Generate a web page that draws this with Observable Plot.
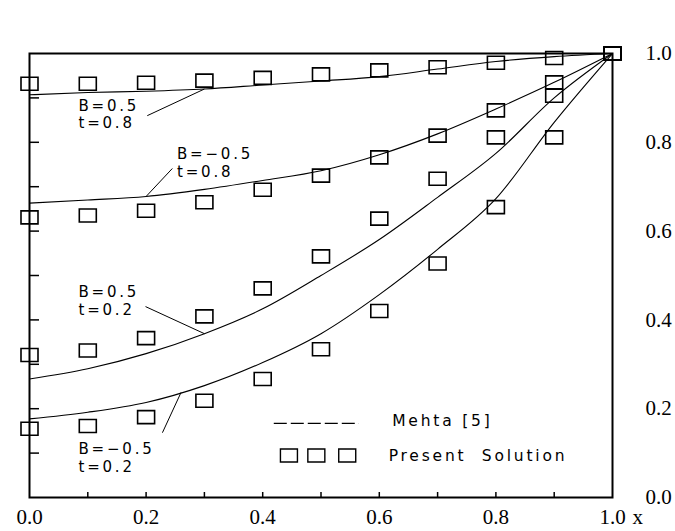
<!DOCTYPE html>
<html>
<head>
<meta charset="utf-8">
<script src="https://cdn.jsdelivr.net/npm/d3@7"></script>
<script src="https://cdn.jsdelivr.net/npm/@observablehq/plot@0.6"></script>
<style>
  html, body { margin: 0; padding: 0; background: #fff; }
  #chart g[aria-label="text"] text { letter-spacing: 2.8px; }
</style>
</head>
<body>
<div id="chart"></div>
<script>
// ---- data ----
const xValues = [0, 0.1, 0.2, 0.3, 0.4, 0.5, 0.6, 0.7, 0.8, 0.9, 1.0];

// Mehta [5] curves
const mehtaB05t08  = [0.907, 0.912, 0.915, 0.920, 0.929, 0.938, 0.948, 0.965, 0.982, 0.993, 1.0];
const mehtaBm05t08 = [0.663, 0.670, 0.678, 0.694, 0.714, 0.736, 0.772, 0.819, 0.875, 0.935, 1.0];
const mehtaB05t02  = [0.267, 0.290, 0.324, 0.369, 0.425, 0.500, 0.581, 0.676, 0.775, 0.900, 1.0];
const mehtaBm05t02 = [0.177, 0.192, 0.214, 0.252, 0.304, 0.369, 0.457, 0.559, 0.673, 0.845, 1.0];

// Present solution (squares)
const presentB05t08  = [0.932, 0.932, 0.934, 0.939, 0.945, 0.953, 0.962, 0.969, 0.979, 0.990, 1.0];
const presentBm05t08 = [0.631, 0.635, 0.646, 0.665, 0.693, 0.725, 0.766, 0.815, 0.872, 0.935, 1.0];
const presentB05t02  = [0.321, 0.331, 0.359, 0.408, 0.471, 0.543, 0.628, 0.718, 0.811, 0.905, 1.0];
const presentBm05t02 = [0.155, 0.161, 0.181, 0.218, 0.267, 0.334, 0.420, 0.527, 0.654, 0.811, 1.0];

const seriesLabels = ["B=0.5\nt=0.8", "B=\u22120.5\nt=0.8", "B=0.5\nt=0.2", "B=\u22120.5\nt=0.2"];
const xTickLabels = [0, 0.2, 0.4, 0.6, 0.8, 1.0];
const yTickLabels = [0, 0.2, 0.4, 0.6, 0.8, 1.0];
const minorTicks = [0.1, 0.2, 0.3, 0.4, 0.5, 0.6, 0.7, 0.8, 0.9];
const legendLabels = ["Mehta [5]", "Present  Solution"];
const axisName = "x";

// ---- layout (annotation placement, in data units) ----
const mehta = [mehtaB05t08, mehtaBm05t08, mehtaB05t02, mehtaBm05t02];
const present = [presentB05t08, presentBm05t08, presentB05t02, presentBm05t02];
const annotLayout = [
  {tx: 0.084, ty: 0.899, lx: 0.202, ly: 0.860, ax: 0.30},
  {tx: 0.253, ty: 0.790, lx: 0.245, ly: 0.741, ax: 0.20},
  {tx: 0.084, ty: 0.479, lx: 0.199, ly: 0.430, ax: 0.30},
  {tx: 0.084, ty: 0.126, lx: 0.228, ly: 0.146, ax: 0.26}
];
const legendLayout = {lineX1: 0.419, lineX2: 0.565, lineY: 0.167,
  boxX: [0.445, 0.492, 0.545], boxY: 0.0946,
  textX: [0.622, 0.616], textY: [0.185, 0.106]};

const interp = (arr, x) => d3.scaleLinear().domain(xValues).range(arr)(x);

const lineRows = mehta.flatMap((s, i) => xValues.map((x, j) => ({id: i, x, y: s[j]})));
const boxRows = present.flatMap((s, i) => xValues.map((x, j) => ({id: i, x, y: s[j]})));
const annots = annotLayout.map((a, i) => ({...a, label: seriesLabels[i], ay: interp(mehta[i], a.ax)}));

const box = {draw(ctx) { ctx.moveTo(-8.5, -6.5); ctx.lineTo(8.5, -6.5); ctx.lineTo(8.5, 6.5); ctx.lineTo(-8.5, 6.5); ctx.closePath(); }};
const fmt = d3.format(".1f");
const serif = "Liberation Serif";
const sans = "DejaVu Sans";

const chart = Plot.plot({
  width: 675,
  height: 531,
  marginLeft: 29,
  marginRight: 63,
  marginTop: 53,
  marginBottom: 34,
  style: {background: "white", color: "black", fontFamily: serif},
  x: {domain: [0, 1]},
  y: {domain: [0, 1]},
  marks: [
    Plot.line(lineRows, {x: "x", y: "y", z: "id", curve: "monotone-x", stroke: "black", strokeWidth: 1.1}),
    Plot.dot(boxRows, {x: "x", y: "y", symbol: box, fill: "none", stroke: "black", strokeWidth: 1.6}),
    Plot.frame({stroke: "black", strokeWidth: 2}),
    Plot.axisY(minorTicks, {anchor: "left", tickSize: -10, tickFormat: () => "", label: null, strokeWidth: 1.5}),
    Plot.axisX(minorTicks, {anchor: "bottom", tickSize: -5, tickFormat: () => "", label: null, strokeWidth: 1.5}),
    Plot.axisX(xTickLabels, {anchor: "bottom", tickSize: 0, tickPadding: 12, tickFormat: fmt, label: null, fontSize: 21, fontFamily: serif}),
    Plot.axisY(yTickLabels, {anchor: "right", tickSize: 0, tickPadding: 33, tickFormat: fmt, label: null, fontSize: 21, fontFamily: serif}),
    Plot.text([axisName], {text: d => d, frameAnchor: "bottom-right", dx: 20, dy: 12, textAnchor: "start", lineAnchor: "top", fontSize: 21, fontFamily: serif}),
    Plot.link(annots, {x1: "lx", y1: "ly", x2: "ax", y2: "ay", stroke: "black", strokeWidth: 1}),
    Plot.text(annots, {x: "tx", y: "ty", text: "label", textAnchor: "start", lineAnchor: "top", lineHeight: 1.17, fontSize: 15, fontFamily: sans, fill: "black"}),
    Plot.link([legendLayout], {x1: "lineX1", x2: "lineX2", y1: "lineY", y2: "lineY", stroke: "black", strokeWidth: 1.3, strokeDasharray: "13,4"}),
    Plot.dot(legendLayout.boxX, {x: d => d, y: () => legendLayout.boxY, symbol: box, fill: "none", stroke: "black", strokeWidth: 1.4}),
    Plot.text(legendLabels, {x: (d, i) => legendLayout.textX[i], y: (d, i) => legendLayout.textY[i], text: d => d, textAnchor: "start", lineAnchor: "top", fontSize: 15.5, fontFamily: sans, fill: "black"})
  ]
});
document.getElementById("chart").appendChild(chart);
</script>
</body>
</html>
